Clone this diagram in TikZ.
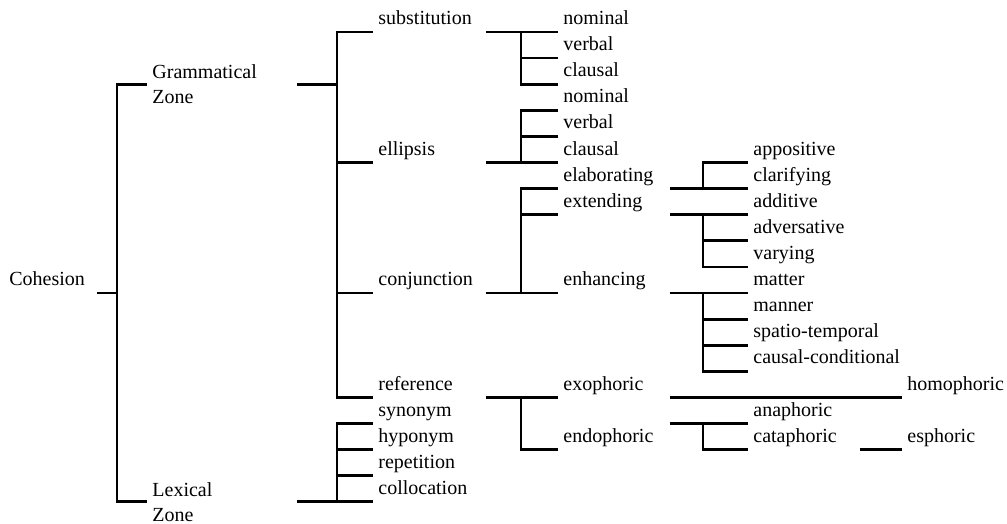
\documentclass[tikz,border=0pt]{standalone}
\usepackage{fontspec}
\setmainfont{Liberation Serif}

\begin{document}
\begin{tikzpicture}[x=1pt, y=1pt, line width=2.8pt,
		term/.style={anchor=south west, inner xsep=4pt, inner ysep=0pt, text depth=6pt, font=\fontsize{20}{26}\selectfont},
		head/.style={term, text width=#1, align=left},
		head/.default=101pt,
		zone/.style={anchor=base west, inner xsep=4pt, inner ysep=0pt, text width=139pt, align=left, font=\fontsize{20}{25.3}\selectfont}]
			\useasboundingbox (0,0) rectangle (1007,-524);

			\node[head=82pt] (coh) at (4,-293) {Cohesion};
			\node[zone] (gram) at (147,-78.7) {Grammatical\\Zone};
			\node[zone] (lex) at (147,-496) {Lexical\\Zone};

			\node[head=102pt] (subs) at (373,-32) {substitution};
			\node[head=102pt] (ell) at (373,-162.5) {ellipsis};
			\node[head=102pt] (conj) at (373,-293) {conjunction};
			\node[head=102pt] (ref) at (373,-397.4) {reference};
			\node[term] (syn) at (373,-423.5) {synonym};
			\node[term] (hypo) at (373,-449.6) {hyponym};
			\node[term] (rep) at (373,-475.7) {repetition};
			\node[term] (coll) at (373,-501.8) {collocation};

			\node[term] (nom1) at (558,-32) {nominal};
			\node[term] (verb1) at (558,-58.1) {verbal};
			\node[term] (claus1) at (558,-84.2) {clausal};
			\node[term] (nom2) at (558,-110.3) {nominal};
			\node[term] (verb2) at (558,-136.4) {verbal};
			\node[term] (claus2) at (558,-162.5) {clausal};
			\node[head] (elab) at (558,-188.6) {elaborating};
			\node[head] (ext) at (558,-214.7) {extending};
			\node[head] (enh) at (558,-293) {enhancing};
			\node[head] (exo) at (558,-397.4) {exophoric};
			\node[head] (endo) at (558,-449.6) {endophoric};

			\node[term] (appo) at (748,-162.5) {appositive};
			\node[term] (clar) at (748,-188.6) {clarifying};
			\node[term] (add) at (748,-214.7) {additive};
			\node[term] (adv) at (748,-240.8) {adversative};
			\node[term] (var) at (748,-266.9) {varying};
			\node[term] (matt) at (748,-293) {matter};
			\node[term] (mann) at (748,-319.1) {manner};
			\node[term] (spat) at (748,-345.2) {spatio-temporal};
			\node[term] (caus) at (748,-371.3) {causal-conditional};
			\node[term] (ana) at (748,-423.5) {anaphoric};
			\node[head] (cata) at (748,-449.6) {cataphoric};

			\node[term] (homo) at (902,-397.4) {homophoric};
			\node[term] (esph) at (902,-449.6) {esphoric};

			% bracket junctions
			\coordinate (jcoh) at (117,-293);
			\coordinate (jgram) at (337,-84.2);
			\coordinate (jlex) at (337,-501.8);
			\coordinate (jsubs) at (521,-32);
			\coordinate (jell) at (521,-162.5);
			\coordinate (jconj) at (521,-293);
			\coordinate (jref) at (521,-397.4);
			\coordinate (jelab) at (703,-188.6);
			\coordinate (jext) at (703,-214.7);
			\coordinate (jenh) at (703,-293);
			\coordinate (jendo) at (703,-423.5);

			\draw (coh.south east) -- (jcoh);
			\draw (gram.west |- jgram) -| (jcoh) |- (lex.west |- jlex);

			\draw (jgram -| gram.east) -- (jgram);
			\draw (subs.south west) -| (jgram) |- (ref.south west);
			\draw (jgram) |- (ell.south west);
			\draw (jgram) |- (conj.south west);

			\draw (jlex -| lex.east) -- (jlex);
			\draw (syn.south west) -| (jlex) -- (coll.south west);
			\draw (jlex) |- (hypo.south west);
			\draw (jlex) |- (rep.south west);

			\draw (subs.south east) -- (jsubs);
			\draw (nom1.south west) -| (jsubs) |- (claus1.south west);
			\draw (jsubs) |- (verb1.south west);

			\draw (ell.south east) -- (jell);
			\draw (nom2.south west) -| (jell) -- (claus2.south west);
			\draw (jell) |- (verb2.south west);

			\draw (conj.south east) -- (jconj);
			\draw (elab.south west) -| (jconj) -- (enh.south west);
			\draw (jconj) |- (ext.south west);

			\draw (ref.south east) -- (jref);
			\draw (exo.south west) -| (jref) |- (endo.south west);

			\draw (elab.south east) -- (jelab);
			\draw (appo.south west) -| (jelab) -- (clar.south west);

			\draw (ext.south east) -- (jext);
			\draw (add.south west) -| (jext) |- (var.south west);
			\draw (jext) |- (adv.south west);

			\draw (enh.south east) -- (jenh);
			\draw (matt.south west) -| (jenh) |- (caus.south west);
			\draw (jenh) |- (mann.south west);
			\draw (jenh) |- (spat.south west);

			\draw (exo.south east) -- (homo.south west);

			\draw (jendo -| endo.east) -- (jendo);
			\draw (ana.south west) -| (jendo) |- (cata.south west);

			\draw (cata.south east) -- (esph.south west);

		  \end{tikzpicture}
\end{document}
